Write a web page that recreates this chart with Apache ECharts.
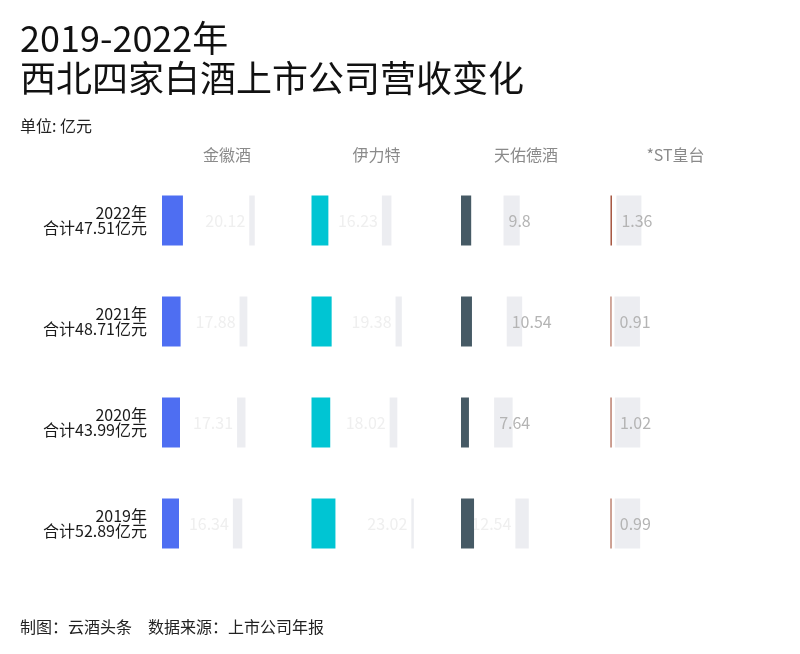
<!DOCTYPE html>
<html>
<head>
<meta charset="utf-8">
<style>
  html, body { margin: 0; padding: 0; background: #fff; }
  #main { width: 800px; height: 654px; }
</style>
<script src="https://cdn.jsdelivr.net/npm/echarts@6/dist/echarts.min.js"></script>
</head>
<body>
<div id="main"></div>
<script>
// data (亿元)
var years = ['2022年', '2021年', '2020年', '2019年'];
var companies = ['金徽酒', '伊力特', '天佑德酒', '*ST皇台'];
var jinhui = [20.12, 17.88, 17.31, 16.34];
var yilite = [16.23, 19.38, 18.02, 23.02];
var tianyoude = [9.8, 10.54, 7.64, 12.54];
var huangtai = [1.36, 0.91, 1.02, 0.99];
var colors = ['#4e6ef2', '#00c5d3', '#465a65', '#a04a33'];

var values = [jinhui, yilite, tianyoude, huangtai];
var track = 25.4;   // length of the grey track
var gapRatio = 3.17;  // white gap between coloured bar and track

var yLabels = years.map(function (y, i) {
  var sum = 0;
  values.forEach(function (arr) { sum += arr[i]; });
  return y + '\n合计' + sum.toFixed(2) + '亿元';
});

var grids = [], xAxes = [], yAxes = [], series = [];
companies.forEach(function (name, c) {
  var vals = values[c];
  grids.push({ left: 162 + c * 149.5, top: 170, width: 130, height: 404 });
  xAxes.push({
    gridIndex: c, type: 'value', min: 0, max: 125, position: 'top',
    name: name, nameLocation: 'middle', nameGap: 7,
    nameTextStyle: { color: '#8a8a8a', fontSize: 16 },
    axisLine: { show: false }, axisTick: { show: false },
    axisLabel: { show: false }, splitLine: { show: false }
  });
  yAxes.push({
    gridIndex: c, type: 'category', inverse: true, data: yLabels,
    axisLine: { show: false }, axisTick: { show: false }, splitLine: { show: false },
    axisLabel: {
      show: c === 0, color: '#1a1a1a', fontSize: 16, lineHeight: 15,
      align: 'right', margin: 15
    }
  });
  // label goes into the white gap when it fits there, otherwise onto the track
  var fits = vals.map(function (v) { return v * gapRatio >= 38; });
  series.push({
    type: 'bar', xAxisIndex: c, yAxisIndex: c, stack: 's' + c, z: 3,
    barWidth: 50, silent: true,
    itemStyle: { color: colors[c] },
    data: vals
  });
  series.push({
    type: 'bar', xAxisIndex: c, yAxisIndex: c, stack: 's' + c, z: 2,
    barWidth: 50, silent: true,
    itemStyle: { color: 'rgba(0,0,0,0)' },
    data: vals.map(function (v, i) {
      return {
        value: v * gapRatio,
        label: {
          show: fits[i], position: 'insideRight', distance: 4,
          formatter: String(v), color: '#efefef', fontSize: 16
        }
      };
    })
  });
  series.push({
    type: 'bar', xAxisIndex: c, yAxisIndex: c, stack: 's' + c, z: 2,
    barWidth: 50, silent: true,
    itemStyle: { color: '#ecedf1' },
    data: vals.map(function (v, i) {
      return {
        value: track - v,
        label: {
          show: !fits[i], position: 'insideLeft', distance: 5,
          formatter: String(v), color: '#b4b4b4', fontSize: 16
        }
      };
    })
  });
});

var chart = echarts.init(document.getElementById('main'));
chart.setOption({
  animation: false,
  backgroundColor: '#fff',
  textStyle: { fontFamily: 'Noto Sans CJK SC' },
  title: [
    {
      text: '2019-2022年\n西北四家白酒上市公司营收变化', left: 20, top: 18, padding: 0,
      textStyle: { fontSize: 36, fontWeight: 'normal', color: '#111', lineHeight: 40 }
    },
    {
      text: '单位: 亿元', left: 20, top: 118, padding: 0,
      textStyle: { fontSize: 16, fontWeight: 'normal', color: '#222' }
    },
    {
      text: '制图：云酒头条　数据来源：上市公司年报', left: 20, top: 619, padding: 0,
      textStyle: { fontSize: 16, fontWeight: 'normal', color: '#222' }
    }
  ],
  grid: grids,
  xAxis: xAxes,
  yAxis: yAxes,
  series: series
});
</script>
</body>
</html>
